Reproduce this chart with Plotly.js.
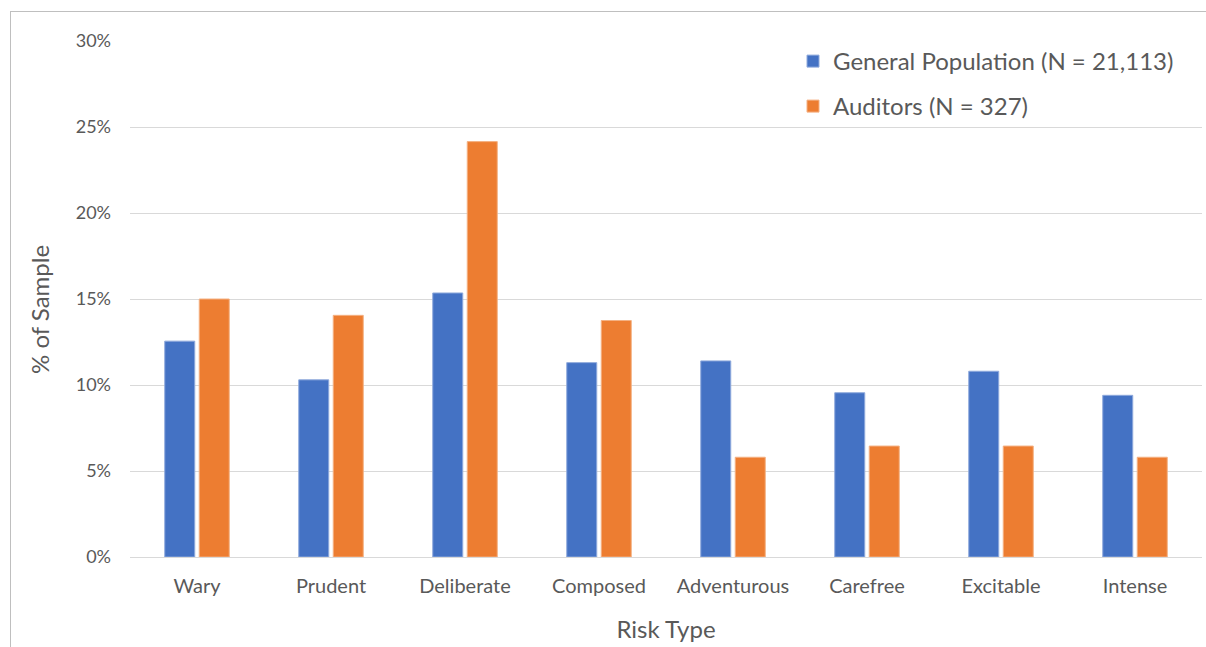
<!DOCTYPE html>
<html>
<head>
<meta charset="utf-8">
<script src="https://cdn.plot.ly/plotly-3.0.1.min.js"></script>
<style>
  html, body { margin: 0; padding: 0; background: #ffffff; }
  #chart { width: 1206px; height: 647px; }
</style>
</head>
<body>
<div id="chart"></div>
<script>
const categories = ["Wary", "Prudent", "Deliberate", "Composed", "Adventurous", "Carefree", "Excitable", "Intense"];
const generalPopulation = [12.55, 10.3, 15.35, 11.3, 11.4, 9.55, 10.8, 9.4];
const auditors = [15.0, 14.05, 24.15, 13.75, 5.8, 6.45, 6.45, 5.8];
const seriesNames = ["General Population (N = 21,113)", "Auditors (N = 327)"];
const yTickValues = [0, 5, 10, 15, 20, 25, 30];
const yTickLabels = ["0%", "5%", "10%", "15%", "20%", "25%", "30%"];
const xTitle = "Risk Type";
const yTitle = "% of Sample";

const FONT = "Lato, 'Open Sans', sans-serif";
const W = 1206, H = 647;
const M = { l: 130, r: 4, t: 41, b: 90 };
const pw = W - M.l - M.r, ph = H - M.t - M.b;
const px2x = px => (px - M.l) / pw;
const py2y = py => (H - M.b - py) / ph;

const traces = [
  {
    type: "bar", name: seriesNames[0], x: categories, y: generalPopulation,
    marker: { color: "#4472C4", line: { color: "#8faadc", width: 1 } },
    legend: "legend", hoverinfo: "x+y"
  },
  {
    type: "bar", name: seriesNames[1], x: categories, y: auditors,
    marker: { color: "#ED7D31", line: { color: "#f4b183", width: 1 } },
    legend: "legend2", hoverinfo: "x+y"
  }
];

const layout = {
  width: W, height: H,
  margin: M,
  paper_bgcolor: "#ffffff", plot_bgcolor: "#ffffff",
  font: { family: FONT, color: "#595959", size: 18 },
  barmode: "group", bargap: 0.485, bargroupgap: 0.13,
  xaxis: {
    type: "category",
    tickfont: { size: 20, color: "#595959" },
    ticks: "", ticklabelstandoff: 15,
    showline: false, showgrid: false, zeroline: false,
    title: { text: xTitle, font: { size: 24, color: "#595959" }, standoff: 25 }
  },
  yaxis: {
    range: [0, 30], tickvals: yTickValues, ticktext: yTickLabels,
    tickfont: { size: 18, color: "#595959" },
    ticks: "", ticklabelstandoff: 18,
    showgrid: true, gridcolor: "#D9D9D9", gridwidth: 1,
    zeroline: true, zerolinecolor: "#D9D9D9", zerolinewidth: 1,
    showline: false
  },
  annotations: [
    { text: yTitle, xref: "paper", yref: "paper", x: px2x(39), y: py2y(310),
      xanchor: "center", yanchor: "middle", textangle: -90, showarrow: false,
      font: { size: 24, color: "#595959", family: FONT } }
  ],
  legend: {
    x: px2x(793), y: py2y(39), xanchor: "left", yanchor: "top",
    bgcolor: "rgba(0,0,0,0)", font: { size: 24, color: "#595959" },
    itemwidth: 30
  },
  legend2: {
    x: px2x(793), y: py2y(84), xanchor: "left", yanchor: "top",
    bgcolor: "rgba(0,0,0,0)", font: { size: 24, color: "#595959" },
    itemwidth: 30
  },
  showlegend: true,
  shapes: [
    { type: "line", xref: "paper", yref: "paper", x0: px2x(10), x1: px2x(1210), y0: py2y(11.5), y1: py2y(11.5), line: { color: "#BFBFBF", width: 1 } },
    { type: "line", xref: "paper", yref: "paper", x0: px2x(10.5), x1: px2x(10.5), y0: py2y(11.5), y1: py2y(650), line: { color: "#BFBFBF", width: 1 } }
  ]
};

Plotly.newPlot("chart", traces, layout, { staticPlot: true, displayModeBar: false });
</script>
</body>
</html>
